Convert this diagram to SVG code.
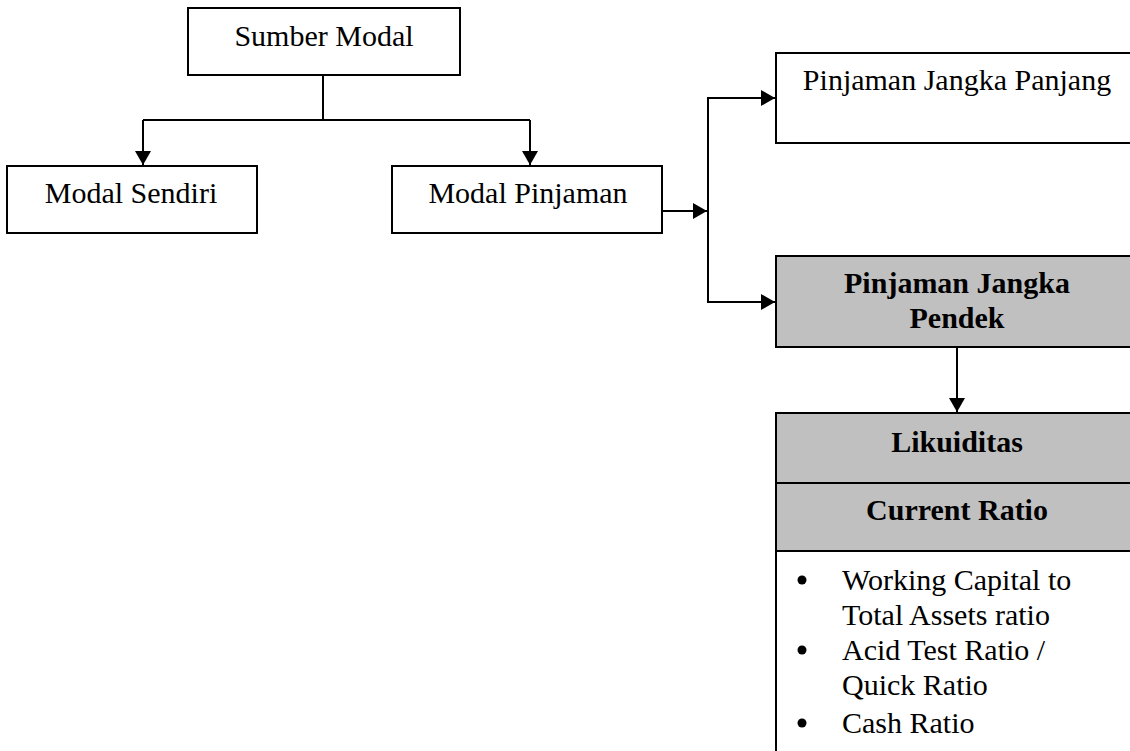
<svg xmlns="http://www.w3.org/2000/svg" width="1130" height="751" viewBox="0 0 1130 751">
<style>
.box{fill:#fff;stroke:#000;stroke-width:2}
.grey{fill:#c0c0c0;stroke:#000;stroke-width:2}
.t{font-family:"Liberation Serif","Times New Roman",serif;font-size:30px;fill:#000}
.b{font-weight:bold}
.c{text-anchor:middle}
.ln{fill:none;stroke:#000;stroke-width:2}
</style>
<defs>
<marker id="ah" markerUnits="userSpaceOnUse" markerWidth="14" markerHeight="16" viewBox="0 0 14 16" refX="14" refY="8" orient="auto">
<path d="M0,0 L14,8 L0,16 Z" fill="#000"/>
</marker>
</defs>
<rect width="1130" height="751" fill="#fff"/>
<g id="connectors">
<path class="ln" d="M323,75 V120"/>
<path class="ln" d="M143,120 H530"/>
<path class="ln" d="M143,120 V165" marker-end="url(#ah)"/>
<path class="ln" d="M530,120 V165" marker-end="url(#ah)"/>
<path class="ln" d="M662,211 H707" marker-end="url(#ah)"/>
<path class="ln" d="M776,98 H708 V302 H776" />
<path class="ln" d="M740,98 H775" marker-end="url(#ah)"/>
<path class="ln" d="M740,302 H775" marker-end="url(#ah)"/>
<path class="ln" d="M957,347 V412" marker-end="url(#ah)"/>
</g>
<g id="sumber-modal">
<rect class="box" x="188" y="8" width="272" height="67"/>
<text class="t c" x="324" y="46">Sumber Modal</text>
</g>
<g id="modal-sendiri">
<rect class="box" x="7" y="166" width="250" height="67"/>
<text class="t c" x="131" y="203">Modal Sendiri</text>
</g>
<g id="modal-pinjaman">
<rect class="box" x="392" y="166" width="270" height="67"/>
<text class="t c" x="528" y="203">Modal Pinjaman</text>
</g>
<g id="pinjaman-jangka-panjang">
<rect class="box" x="776" y="53" width="362" height="90"/>
<text class="t c" x="957" y="90">Pinjaman Jangka Panjang</text>
</g>
<g id="pinjaman-jangka-pendek">
<rect class="grey" x="776" y="256" width="362" height="91"/>
<text class="t b c" x="957" y="293">Pinjaman Jangka</text>
<text class="t b c" x="957" y="328">Pendek</text>
</g>
<g id="likuiditas">
<rect class="box" x="776" y="413" width="362" height="360"/>
<rect class="grey" x="776" y="413" width="362" height="70"/>
<rect class="grey" x="776" y="483" width="362" height="68"/>
<text class="t b c" x="957" y="452">Likuiditas</text>
<text class="t b c" x="957" y="520">Current Ratio</text>
<circle cx="802" cy="580" r="4.5"/>
<circle cx="802" cy="650" r="4.5"/>
<circle cx="802" cy="723" r="4.5"/>
<text class="t" x="842" y="590">Working Capital to</text>
<text class="t" x="842" y="625">Total Assets ratio</text>
<text class="t" x="842" y="660">Acid Test Ratio /</text>
<text class="t" x="842" y="695">Quick Ratio</text>
<text class="t" x="842" y="733">Cash Ratio</text>
</g>
</svg>
